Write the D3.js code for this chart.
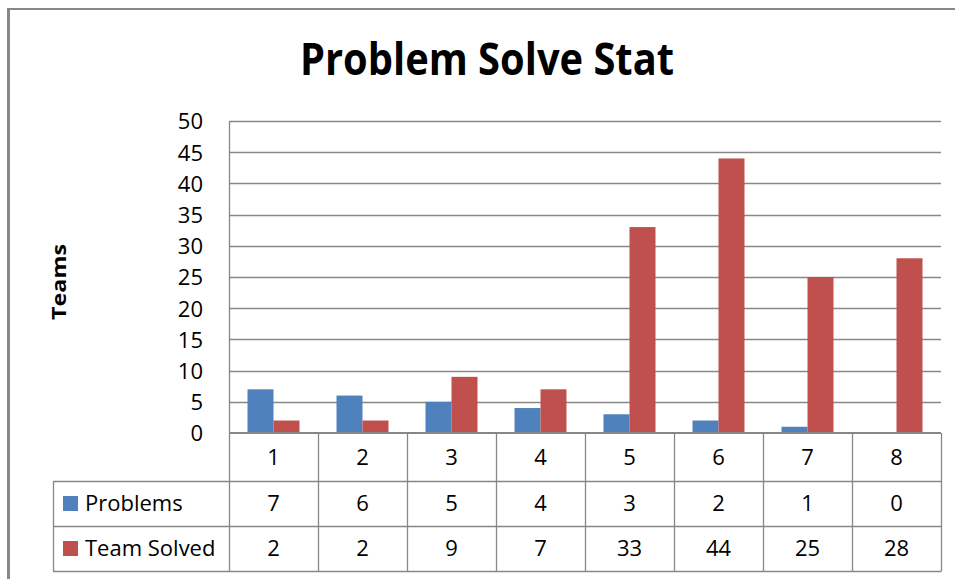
<!DOCTYPE html>
<html>
<head>
<meta charset="utf-8">
<script src="https://cdn.jsdelivr.net/npm/d3@7"></script>
<style>
  html, body { margin: 0; padding: 0; background: #fff; }
  svg { display: block; }
  text { font-family: "Open Sans", Lato, sans-serif; fill: #000; }
</style>
</head>
<body>
<svg id="chart" width="955" height="579"></svg>
<script>
const categories = ["1", "2", "3", "4", "5", "6", "7", "8"];
const seriesNames = ["Problems", "Team Solved"];
const problems = [7, 6, 5, 4, 3, 2, 1, 0];
const teamSolved = [2, 2, 9, 7, 33, 44, 25, 28];
const yTicks = [0, 5, 10, 15, 20, 25, 30, 35, 40, 45, 50];
const colors = ["#4F81BD", "#C0504D"];
const titleText = "Problem Solve Stat";
const yTitle = "Teams";

const seriesValues = [problems, teamSolved];

const svg = d3.select("#chart");
const grid = "#878787";
const FONT = "'Open Sans', Lato, sans-serif";

const pLeft = 229, pRight = 941, pTop = 121, pBottom = 433;
const rowTops = [433, 481, 526, 571];
const legendLeft = 53;

// outer frame
svg.append("line").attr("x1", 8.5).attr("x2", 8.5).attr("y1", 8).attr("y2", 579)
  .attr("stroke", grid).attr("stroke-width", 3);
svg.append("line").attr("x1", 7).attr("x2", 955).attr("y1", 9).attr("y2", 9)
  .attr("stroke", grid).attr("stroke-width", 2);

// title
svg.append("text").attr("x", 487).attr("y", 75).attr("text-anchor", "middle")
  .attr("font-size", 44).attr("font-weight", "bold")
  .attr("textLength", 374).attr("lengthAdjust", "spacingAndGlyphs")
  .text(titleText);

const y = d3.scaleLinear().domain([0, 50]).range([pBottom, pTop]);
const pi = 37 / 89;
const x = d3.scaleBand().domain(categories).range([pLeft, pRight])
  .paddingInner(pi).paddingOuter(pi / 2);
const xs = d3.scaleBand().domain(seriesNames).range([0, x.bandwidth()]).padding(0);
const cols = d3.scaleBand().domain(categories).range([pLeft, pRight]).padding(0);

// gridlines
svg.append("g").selectAll("line").data(yTicks.filter(d => d > 0)).join("line")
  .attr("x1", pLeft).attr("x2", pRight)
  .attr("y1", d => Math.round(y(d)) + 0.5).attr("y2", d => Math.round(y(d)) + 0.5)
  .attr("stroke", grid).attr("stroke-width", 1.3);

// y axis via d3.axisLeft (labels only)
const yAxis = svg.append("g").attr("transform", `translate(${pLeft},0)`)
  .call(d3.axisLeft(y).tickValues(yTicks).tickSize(0).tickPadding(26));
yAxis.select(".domain").remove();
yAxis.selectAll("text").attr("font-size", 22).attr("font-family", FONT)
  .attr("fill", "#000").attr("dy", "0.36em");

// y axis line
svg.append("line").attr("x1", pLeft + 0.5).attr("x2", pLeft + 0.5).attr("y1", pTop).attr("y2", pBottom)
  .attr("stroke", grid).attr("stroke-width", 1.3);

// bars
const groups = svg.append("g").selectAll("g").data(categories).join("g")
  .attr("transform", d => `translate(${x(d)},0)`);
groups.selectAll("rect").data((d, i) => seriesNames.map((s, j) => ({ s, j, v: seriesValues[j][i] })))
  .join("rect")
  .attr("x", d => xs(d.s)).attr("width", xs.bandwidth())
  .attr("y", d => y(d.v)).attr("height", d => y(0) - y(d.v))
  .attr("fill", d => colors[d.j]);

// y title
svg.append("text").attr("transform", `translate(66,282) rotate(-90)`)
  .attr("text-anchor", "middle").attr("font-size", 20).attr("font-weight", "bold")
  .attr("textLength", 76).attr("lengthAdjust", "spacingAndGlyphs")
  .text(yTitle);

// data table
const tbl = svg.append("g").attr("stroke", grid).attr("stroke-width", 1.3);
svg.append("line").attr("x1", pLeft).attr("x2", pRight).attr("y1", pBottom).attr("y2", pBottom)
  .attr("stroke", grid).attr("stroke-width", 2.2);
[rowTops[1], rowTops[2], rowTops[3]].forEach(yy => {
  tbl.append("line").attr("x1", legendLeft).attr("x2", pRight).attr("y1", yy + 0.5).attr("y2", yy + 0.5);
});
const bounds = categories.map(c => cols(c)).concat([pRight]);
tbl.selectAll("line.v").data(bounds).join("line").attr("class", "v")
  .attr("x1", d => Math.round(d) + 0.5).attr("x2", d => Math.round(d) + 0.5)
  .attr("y1", rowTops[0]).attr("y2", rowTops[3] + 0.5);
tbl.append("line").attr("x1", legendLeft + 0.5).attr("x2", legendLeft + 0.5)
  .attr("y1", rowTops[1]).attr("y2", rowTops[3] + 0.5);

// category labels
const fs = 22;
svg.append("g").selectAll("text").data(categories).join("text")
  .attr("x", d => cols(d) + cols.bandwidth() / 2).attr("y", (rowTops[0] + rowTops[1]) / 2)
  .attr("dy", "0.36em").attr("text-anchor", "middle").attr("font-size", fs).text(d => d);

// series rows
seriesNames.forEach((s, j) => {
  const cy = (rowTops[j + 1] + rowTops[j + 2]) / 2;
  svg.append("rect").attr("x", 63).attr("y", cy - 7.5).attr("width", 15).attr("height", 15)
    .attr("fill", colors[j]);
  svg.append("text").attr("x", 85).attr("y", cy).attr("dy", "0.36em")
    .attr("font-size", fs).text(s);
  svg.append("g").selectAll("text").data(seriesValues[j]).join("text")
    .attr("x", (d, i) => cols(categories[i]) + cols.bandwidth() / 2).attr("y", cy)
    .attr("dy", "0.36em").attr("text-anchor", "middle").attr("font-size", fs).text(d => d);
});
</script>
</body>
</html>
